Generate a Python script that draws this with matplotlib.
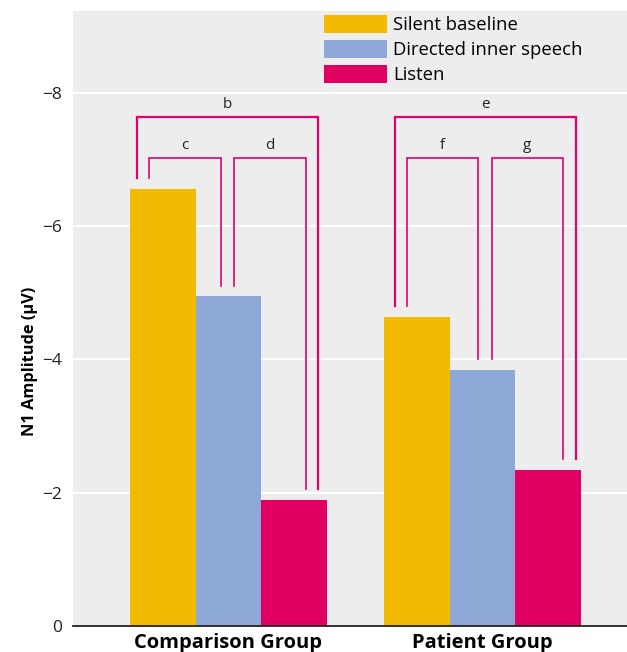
import matplotlib
matplotlib.use("Agg")
import matplotlib.pyplot as plt
from matplotlib.patches import Patch
import numpy as np

plt.rcParams['font.family'] = ['Open Sans', 'DejaVu Sans']

groups = ["Comparison Group", "Patient Group"]
conditions = ["Silent baseline", "Directed inner speech", "Listen"]
silent = [-6.56, -4.64]
directed = [-4.95, -3.84]
listen = [-1.89, -2.34]
yticks = [0, -2, -4, -6, -8]

# significance brackets: label, group, bar i, bar j
brackets = [("b", 0, 0, 2), ("c", 0, 0, 1), ("d", 0, 1, 2),
            ("e", 1, 0, 2), ("f", 1, 0, 1), ("g", 1, 1, 2)]

colors = ["#F2BA00", "#8EA9D8", "#E00062"]
pink = "#E3006E"

fig = plt.figure(figsize=(6.27, 6.52), dpi=100)
ax = fig.add_axes([73/627, 26/652, 554/627, 615/652])
ax.set_facecolor("#EDEDED")

centers = np.array([0.0, 3.878])
width = 1.0
series = [silent, directed, listen]
for k, (vals, col, lab) in enumerate(zip(series, colors, conditions)):
    ax.bar(centers + (k - 1) * width, vals, width=width, color=col,
           label=lab, linewidth=0, zorder=2)

# bracket styling (positions relative to bar centers)
style = {
    "b": dict(dl=-0.40, dr=0.37, top=-7.64, lw=1.6),
    "c": dict(dl=-0.21, dr=-0.115, top=-7.03, lw=1.2),
    "d": dict(dl=0.084, dr=0.18, top=-7.03, lw=1.2),
    "e": dict(dl=-0.34, dr=0.42, top=-7.64, lw=1.6),
    "f": dict(dl=-0.16, dr=-0.07, top=-7.03, lw=1.2),
    "g": dict(dl=0.14, dr=0.23, top=-7.03, lw=1.2),
}
gap = 0.16
for lab, g, i, j in brackets:
    s = style[lab]
    xl = centers[g] + (i - 1) * width + s["dl"]
    xr = centers[g] + (j - 1) * width + s["dr"]
    yl = series[i][g] - gap
    yr = series[j][g] - gap
    ax.plot([xl, xl, xr, xr], [yl, s["top"], s["top"], yr], color=pink,
            lw=s["lw"], solid_joinstyle="miter", zorder=3)
    ax.text((xl + xr) / 2, s["top"] - 0.13, lab, ha="center", va="baseline",
            fontsize=11, color="#222222")

ax.set_xlim(-2.374, 6.084)
ax.set_ylim(0, -9.23)
ax.set_yticks(yticks)
ax.set_yticklabels([("\u2212%d" % -t) if t != 0 else "0" for t in yticks])
ax.tick_params(axis="y", length=0, pad=8, labelsize=12.5, labelcolor="#222222")
ax.set_xticks(centers)
ax.set_xticklabels(groups, fontsize=14.5, fontweight="bold")
ax.tick_params(axis="x", length=0, pad=5)
ax.yaxis.grid(True, color="white", lw=1.5, zorder=0)
ax.set_axisbelow(True)
for sp in ["top", "right", "left"]:
    ax.spines[sp].set_visible(False)
ax.spines["bottom"].set_color("#222222")
ax.spines["bottom"].set_linewidth(1.3)
ax.spines["bottom"].set_zorder(4)

ax.set_ylabel("N1 Amplitude (\u03bcV)", fontsize=11.8, fontweight="bold")
ax.yaxis.set_label_coords(-0.064, 0.43)

handles = [Patch(facecolor=c, edgecolor="none", label=l)
           for c, l in zip(colors, conditions)]
leg = ax.legend(handles=handles, loc="upper left",
                bbox_to_anchor=(324/627, 1 - 15/652),
                bbox_transform=fig.transFigure, frameon=False,
                fontsize=13.3, handlelength=3.4, handleheight=1.1,
                labelspacing=0.32, handletextpad=0.33, borderpad=0,
                borderaxespad=0)

fig.savefig("out.png", dpi=100)
